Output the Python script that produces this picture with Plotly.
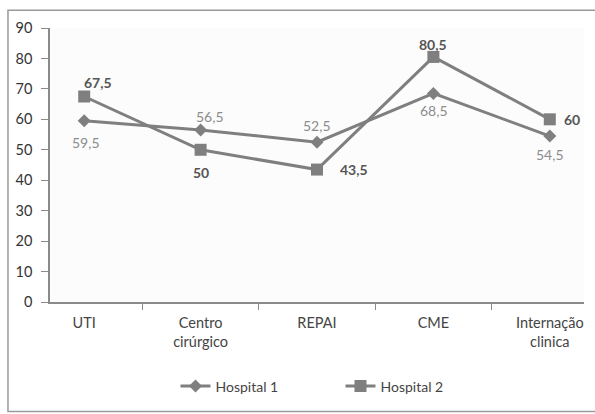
import plotly.graph_objects as go

categories = ["UTI", "Centro<br>cirúrgico", "REPAI", "CME", "Internação<br>clinica"]
hospital1 = [59.5, 56.5, 52.5, 68.5, 54.5]
hospital2 = [67.5, 50, 43.5, 80.5, 60]
# label offsets (px) relative to each point: (dx, dy), dy positive = up
h1_offsets = [(2, -22), (9, 13), (0, 17), (1, -17), (0, -18)]
h2_offsets = [(14, 14), (0, -23), (37, 0), (0, 12), (22, 0)]
y_ticks = list(range(0, 100, 10))


def fmt(v):
    return f"{v:g}".replace(".", ",")


fig = go.Figure()
fig.add_trace(go.Scatter(
    x=categories, y=hospital1, name="Hospital 1", mode="lines+markers",
    line=dict(color="#7f7f7f", width=3),
    marker=dict(symbol="diamond", size=10, color="#7f7f7f"),
))
fig.add_trace(go.Scatter(
    x=categories, y=hospital2, name="Hospital 2", mode="lines+markers",
    line=dict(color="#7f7f7f", width=3),
    marker=dict(symbol="square", size=12, color="#7f7f7f"),
))

annotations = []
for cat, v, (dx, dy) in zip(categories, hospital1, h1_offsets):
    annotations.append(dict(x=cat, y=v, text=fmt(v), showarrow=False,
                            xshift=dx, yshift=dy,
                            font=dict(family="Lato", size=14, color="#8c8c8c")))
for cat, v, (dx, dy) in zip(categories, hospital2, h2_offsets):
    annotations.append(dict(x=cat, y=v, text=f"<b>{fmt(v)}</b>", showarrow=False,
                            xshift=dx, yshift=dy,
                            font=dict(family="Lato", size=14, color="#555555")))

fig.update_layout(
    width=595, height=414,
    margin=dict(l=50, r=11, t=28, b=107),
    paper_bgcolor="white", plot_bgcolor="#fcfcfc",
    font=dict(family="Lato", size=14, color="#444444"),
    showlegend=True,
    legend=dict(orientation="h", x=0.235, xanchor="left", y=-0.25, yanchor="top",
                font=dict(size=14, color="#444444"), entrywidth=120,
                bgcolor="rgba(0,0,0,0)"),
    annotations=annotations,
    shapes=[dict(type="rect", xref="paper", yref="paper",
                 x0=-0.0787, x1=1.03, y0=-0.40, y1=1.0645,
                 line=dict(color="#9a9a9a", width=1.5), fillcolor="rgba(0,0,0,0)",
                 layer="below")],
)
fig.update_xaxes(
    showline=True, linecolor="#8a8a8a", linewidth=1.5, automargin=False,
    ticks="outside", tickson="boundaries", ticklen=6, tickcolor="#8a8a8a",
    ticklabelstandoff=7,
    showgrid=False, tickfont=dict(size=14.5, color="#444444"),
)
fig.update_yaxes(
    range=[0, 90], tickvals=y_ticks, showline=True, linecolor="#8a8a8a", linewidth=1.5,
    automargin=False,
    ticks="outside", ticklen=7, tickcolor="#8a8a8a", showgrid=False, zeroline=False,
    ticklabelstandoff=6,
    tickfont=dict(size=14.5, color="#333333"),
)

fig.write_html("out.html")
